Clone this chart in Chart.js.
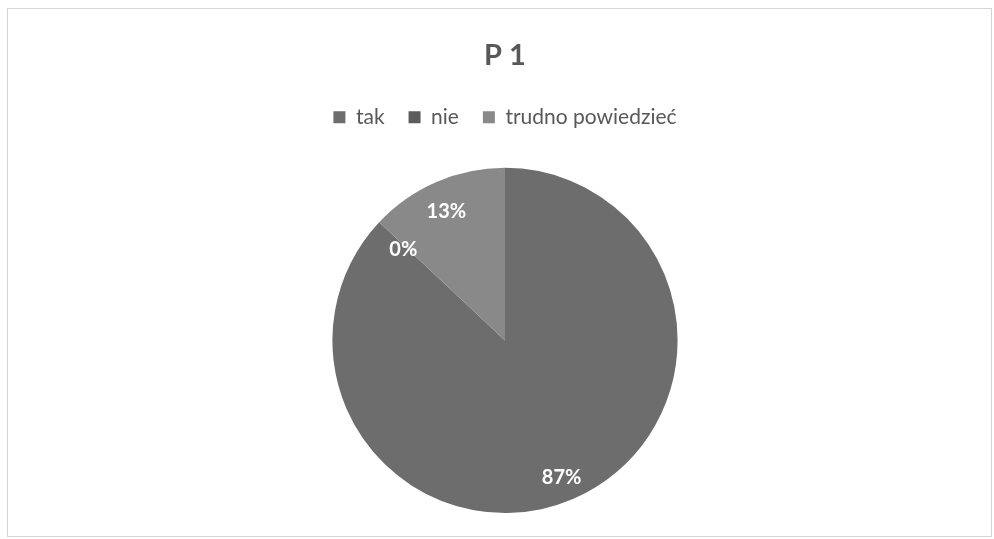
<!DOCTYPE html>
<html>
<head>
<meta charset="utf-8">
<script src="https://cdn.jsdelivr.net/npm/chart.js@4.4.0/dist/chart.umd.min.js"></script>
<style>
  body { margin: 0; background: #fff; }
  #box {
    position: absolute; left: 7px; top: 8px;
    width: 983px; height: 527px;
    border: 1px solid #d4d4d4;
    background: #fff;
  }
</style>
</head>
<body>
<div id="box"><canvas id="pieChart" width="983" height="527"></canvas></div>
<script>
// data
const categories = ['tak', 'nie', 'trudno powiedzieć'];
const shares = [87, 0, 13];
const sliceColors = ['#6d6d6d', '#5c5c5c', '#898989'];

// draws the % labels inside each slice
const sliceLabels = {
  id: 'sliceLabels',
  afterDatasetsDraw(chart) {
    const ctx = chart.ctx;
    const meta = chart.getDatasetMeta(0);
    ctx.save();
    ctx.fillStyle = '#ffffff';
    ctx.font = 'bold 20px Lato';
    ctx.textAlign = 'center';
    ctx.textBaseline = 'middle';
    meta.data.forEach((arc, i) => {
      const mid = (arc.startAngle + arc.endAngle) / 2;
      const r = arc.outerRadius * (shares[i] === 0 ? 0.8 : 0.84);
      ctx.fillText(shares[i] + '%', arc.x + Math.cos(mid) * r - 1, arc.y + Math.sin(mid) * r + 4);
    });
    ctx.restore();
  }
};

// extra gap under the legend
const legendGap = {
  id: 'legendGap',
  beforeInit(chart) {
    const fit = chart.legend.fit;
    chart.legend.fit = function () {
      fit.call(this);
      this.height += 30;
    };
  }
};

new Chart(document.getElementById('pieChart'), {
  type: 'pie',
  data: {
    labels: categories,
    datasets: [{
      data: shares,
      backgroundColor: sliceColors,
      borderWidth: 0
    }]
  },
  plugins: [sliceLabels, legendGap],
  options: {
    responsive: false,
    animation: false,
    layout: { padding: { left: 11, bottom: 23 } },
    plugins: {
      title: {
        display: true,
        text: 'P 1',
        color: '#585858',
        font: { family: 'Lato', size: 29, weight: 'bold', lineHeight: 1.2 },
        padding: { top: 29, bottom: 10 }
      },
      legend: {
        display: true,
        position: 'top',
        labels: {
          color: '#585858',
          font: { family: 'Lato', size: 21 },
          boxWidth: 12,
          boxHeight: 12,
          padding: 24
        }
      },
      tooltip: { enabled: false }
    }
  }
});
</script>
</body>
</html>
